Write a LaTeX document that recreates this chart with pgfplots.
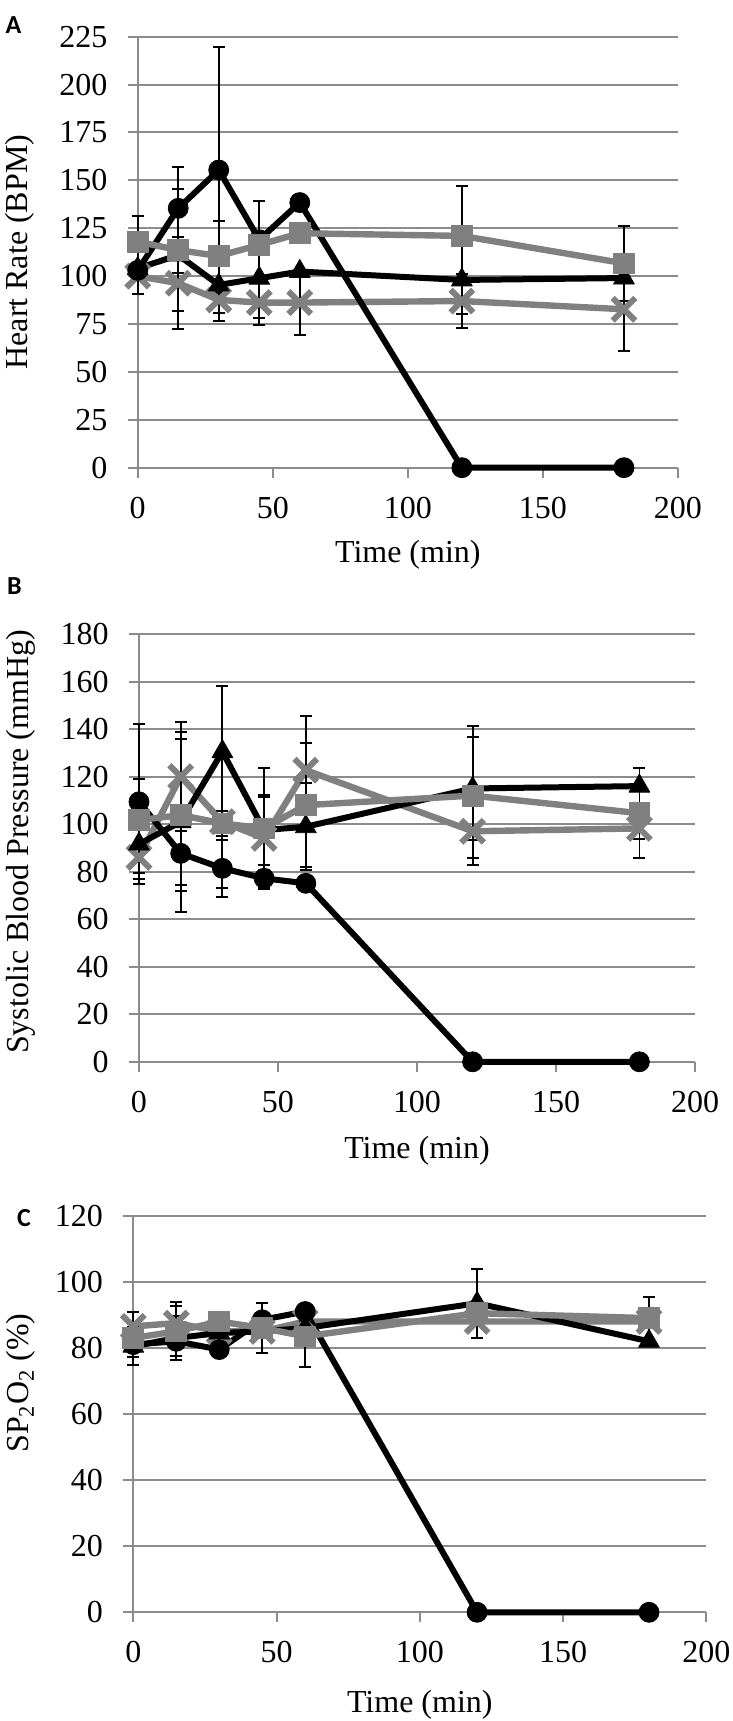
\documentclass[border=0pt]{standalone}
\usepackage{pgfplots}
\pgfplotsset{compat=1.18}
\usepackage{fontspec}
\setmainfont{Liberation Serif}
\newfontfamily\serfont{Liberation Serif}
\newfontfamily\labfont{Carlito}
\definecolor{sgray}{RGB}{128,128,128}
\definecolor{ggray}{RGB}{140,140,140}
\pgfplotsset{
  panel/.style={
    scale only axis,
    clip=false,
    xmin=0, xmax=200,
    xtick={0,50,100,150,200},
    xticklabels={0,50,100,150,200},
    axis x line=bottom, axis y line=left,
    axis line style={draw=ggray, line width=1pt, -},
    ymajorgrids, grid style={draw=ggray, line width=1pt},
    tick align=outside,
    major tick length=5pt,
    tick style={draw=ggray, line width=1pt},
    tick label style={font=\serfont\fontsize{16}{19}\selectfont, inner sep=0pt},
    yticklabel style={xshift=-10pt},
    xticklabel style={yshift=-9.5pt},
  },
  xl/.style={every axis x label/.style={at={(axis description cs:0.5,#1)}, anchor=center, font=\serfont\fontsize{16}{19}\selectfont}},
  yl/.style 2 args={every axis y label/.style={at={(axis description cs:#1,#2)}, rotate=90, anchor=center, font=\serfont\fontsize{16}{19}\selectfont}},
  eb/.style={error bars/.cd, y dir=both, y explicit,
    error bar style={black, line width=0.9pt, solid},
    error mark options={black, line width=1pt, mark size=3pt, rotate=90, solid}},
  sX/.style={draw=sgray, line width=3.2pt, line join=round, mark=x, mark size=8pt,
    mark options={draw=sgray, line width=3pt, solid}, eb},
  sC/.style={draw=black, line width=3pt, line join=round, mark=*, mark size=5pt,
    mark options={fill=black, draw=black, line width=0.4pt, solid}, eb},
  sT/.style={draw=black, line width=3pt, line join=round, mark=triangle*, mark size=6pt,
    mark options={fill=black, draw=black, line width=0.4pt, solid}, eb},
  sS/.style={draw=sgray, line width=3.2pt, line join=round, mark=square*, mark size=5.2pt,
    mark options={fill=sgray, draw=sgray, line width=0.4pt, solid}, eb},
}
\begin{document}
\begin{tikzpicture}
\useasboundingbox (0,0) rectangle (366.5pt,860.5pt);

% ---------------- Panel A ----------------
\begin{axis}[panel,
  at={(68.85pt,626.65pt)}, anchor=south west,
  width=270.15pt, height=215.5pt,
  ymin=0, ymax=225, ytick={0,25,...,225},
  yticklabels={0,25,50,75,100,125,150,175,200,225},
  xlabel={Time (min)}, ylabel={Heart Rate (BPM)},
  xl=-0.202, yl={-0.218}{0.5},
]
\addplot[sX] coordinates {(0,100) +- (0,0) (15,96.3) +- (0,24.1) (30,87.6) +- (0,7) (45,86.2) +- (0,11.7) (60,86.2) +- (0,17.1) (120,87) +- (0,14) (180,82.7) +- (0,21.6)};
\addplot[sC] coordinates {(0,103) +- (0,0) (15,135.4) +- (0,21.7) (30,155.4) +- (0,64.4) (45,119) +- (0,20) (60,138.4) +- (0,0) (120,0) +- (0,0) (180,0) +- (0,0)};
\addplot[sT] coordinates {(0,104) +- (0,13.3) (15,111) +- (0,9.5) (30,95.4) +- (0,18.6) (45,98.9) +- (0,21) (60,102.4) +- (0,0) (120,98) +- (0,17.6) (180,99) +- (0,0)};
\addplot[sS] coordinates {(0,118) +- (0,13.6) (15,113.6) +- (0,31.8) (30,110.5) +- (0,18.3) (45,116.3) +- (0,0) (60,122.4) +- (0,0) (120,121) +- (0,25.8) (180,106.7) +- (0,19.6)};
\end{axis}

% ---------------- Panel B ----------------
\begin{axis}[panel,
  at={(69.5pt,329.6pt)}, anchor=south west,
  width=278pt, height=213.9pt,
  ymin=0, ymax=180, ytick={0,20,...,180},
  yticklabels={0,20,40,60,80,100,120,140,160,180},
  xlabel={Time (min)}, ylabel={Systolic Blood Pressure (mmHg)},
  xl=-0.208, yl={-0.212}{0.514},
]
\addplot[sX] coordinates {(0,86) +- (0,11.4) (15,120) +- (0,23.1) (30,101) +- (0,28) (45,94) +- (0,17.5) (60,122.7) +- (0,22.9) (120,97) +- (0,11.3) (180,98.2) +- (0,4.6)};
\addplot[sC] coordinates {(0,109.4) +- (0,32.6) (15,87.7) +- (0,13.3) (30,81.4) +- (0,11.9) (45,77.2) +- (0,3.5) (60,75.1) +- (0,0) (120,0) +- (0,0) (180,0) +- (0,0)};
\addplot[sT] coordinates {(0,91.6) +- (0,12.3) (15,101) +- (0,37.9) (30,130.5) +- (0,27.7) (45,97.5) +- (0,14.7) (60,98.9) +- (0,18.2) (120,115) +- (0,21.8) (180,116) +- (0,7.5)};
\addplot[sS] coordinates {(0,101.7) +- (0,17.3) (15,103.8) +- (0,32) (30,100.3) +- (0,5.2) (45,98.2) +- (0,25.3) (60,108) +- (0,26) (120,112) +- (0,29.3) (180,104.6) +- (0,19)};
\end{axis}

% ---------------- Panel C ----------------
\begin{axis}[panel,
  at={(66.65pt,54.35pt)}, anchor=south west,
  width=286.5pt, height=198.3pt,
  ymin=0, ymax=120, ytick={0,20,...,120},
  yticklabels={0,20,40,60,80,100,120},
  xlabel={Time (min)}, ylabel={SP\textsubscript{2}O\textsubscript{2} (\%)},
  xl=-0.232, yl={-0.196}{0.578},
]
\addplot[sX] coordinates {(0,86.5) +- (0,4.4) (15,87.5) +- (0,6.3) (30,85) +- (0,0) (45,85) +- (0,0) (60,88) +- (0,0) (120,88) +- (0,0) (180,88) +- (0,0)};
\addplot[sC] coordinates {(0,81) +- (0,3.8) (15,82) +- (0,0) (30,79.5) +- (0,0) (45,88.5) +- (0,0) (60,91) +- (0,0) (120,0) +- (0,0) (180,0) +- (0,0)};
\addplot[sT] coordinates {(0,80.5) +- (0,5.8) (15,83) +- (0,6.8) (30,84.5) +- (0,0) (45,85) +- (0,0) (60,86) +- (0,0) (120,93.5) +- (0,10.4) (180,82) +- (0,0)};
\addplot[sS] coordinates {(0,83) +- (0,0) (15,85) +- (0,7.6) (30,88) +- (0,0) (45,86) +- (0,7.5) (60,83.5) +- (0,9.3) (120,90.5) +- (0,0) (180,89) +- (0,6.3)};
\end{axis}

\node[font=\labfont\bfseries\fontsize{13}{15}\selectfont] at (6.75pt,848pt) {A};
\node[font=\labfont\bfseries\fontsize{13}{15}\selectfont] at (7.25pt,567.5pt) {B};
\node[font=\labfont\bfseries\fontsize{13}{15}\selectfont] at (12pt,251.25pt) {C};
\end{tikzpicture}
\end{document}
